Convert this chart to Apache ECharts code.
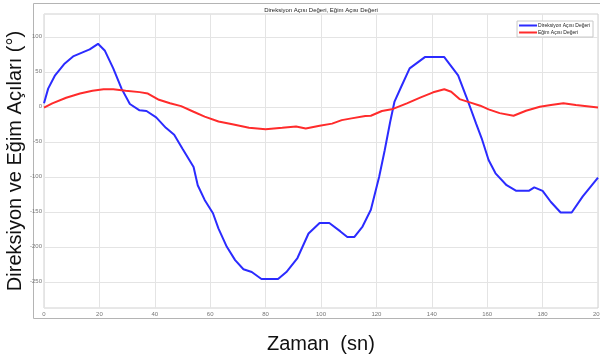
<!DOCTYPE html>
<html><head><meta charset="utf-8">
<script src="https://cdn.jsdelivr.net/npm/echarts@6/dist/echarts.min.js"></script>
<style>html,body{margin:0;padding:0;background:#fff}#c{width:600px;height:363px}</style>
</head><body><div id="c"></div>
<script>
const chartTitle = "Direksiyon Açısı Değeri, Eğim Açısı Değeri";
const xTitle = "Zaman  (sn)";
const yTitle = "Direksiyon ve Eğim Açıları (°)";
const seriesNames = ["Direksiyon Açısı Değeri", "Eğim Açısı Değeri"];
const yTicks = [-250, -200, -150, -100, -50, 0, 50, 100];
const xTicks = [0, 20, 40, 60, 80, 100, 120, 140, 160, 180, 200];

// [time (sn), angle (°)]
const steering = [[0,5],[1.5,26],[4,45],[7.5,62],[10.5,72],[13.5,77],[16.5,82],[19.5,90],[22,80],[25,55],[28,26],[31,4],[34.5,-5],[37,-6],[40.5,-15],[44,-30],[47,-40],[50,-60],[54,-86],[55.5,-112],[58,-133],[61,-152],[63,-174],[66,-200],[69,-219],[72,-232],[75,-236],[78.5,-246],[84.5,-246],[87.5,-236],[91.5,-216],[95.5,-181],[99.5,-166],[103,-166],[107,-178],[109.5,-186],[112,-186],[115,-171],[118,-147],[121,-100],[123,-62],[125,-21],[126.5,7],[129,29],[132,55],[137.5,71],[144.5,71],[149.5,45],[152.5,14],[156,-24],[158,-45],[160.5,-76],[163,-95],[167,-112],[170.5,-120],[175,-120],[177,-115],[180,-120],[183,-136],[186.5,-151],[190.5,-151],[194.5,-128],[200,-101]];
const slope = [[0,-1],[3,5],[8,13],[13,19],[17.5,23],[21.5,25],[25,25],[29.5,23],[34.5,21],[37.5,19],[41.5,10],[45.5,5],[49.5,1],[54,-7],[58,-14],[63,-21],[68,-25],[74,-30],[80,-32],[86,-30],[91,-28],[94.5,-31],[99.5,-27],[104,-24],[107.5,-19],[111,-16.5],[116,-13],[118,-12.7],[122,-6],[126,-3],[131,5],[136,13.5],[140.5,20.7],[144.5,25],[147,21.6],[150,11],[154,6],[157.5,1.6],[160.5,-3.6],[164.5,-9],[169.5,-12.7],[174,-5.6],[179,0],[183,2.6],[187.5,5],[192,2.6],[200,-1]];

const yMin = -287.4, yMax = 132.6;
const font = "Liberation Sans, Arial, sans-serif";
const chart = echarts.init(document.getElementById('c'));
chart.setOption({
  animation: false,
  backgroundColor: '#fff',
  textStyle: {fontFamily: font},
  title: {text: chartTitle, left: 321, top: 7, textAlign: 'center', padding: 0,
    textStyle: {fontSize: 6, fontWeight: 'normal', color: '#222', fontFamily: font}},
  graphic: [
    {type: 'rect', shape: {x: 33.5, y: 3.5, width: 600, height: 315}, style: {fill: 'none', stroke: '#b4b4b4', lineWidth: 1}, z: -1},
    {type: 'text', left: 267, top: 334, style: {text: xTitle, fontSize: 20, fill: '#111', font: '20px ' + font}},
    {type: 'text', x: 5, y: 161, rotation: Math.PI/2, style: {text: yTitle, fontSize: 20, fill: '#111', font: '20px ' + font, align: 'center', verticalAlign: 'top'}}
  ],
  legend: {
    right: 7, top: 21, orient: 'vertical', itemWidth: 18, itemHeight: 2, itemGap: 2,
    icon: 'rect', padding: [2, 3, 2, 2],
    backgroundColor: '#fff', borderColor: '#c8c8c8', borderWidth: 1,
    textStyle: {fontSize: 5, color: '#222', padding: [0, 0, 0, -4]},
    data: seriesNames
  },
  grid: {left: 44, right: 2, top: 14, bottom: 55, show: true, borderColor: '#d0d0d0', borderWidth: 1,
    containLabel: false, outerBoundsMode: 'none'},
  xAxis: {type: 'value', min: 0, max: 200, interval: 20,
    axisLine: {show: false}, axisTick: {show: false},
    axisLabel: {fontSize: 6, color: '#777', margin: 3, formatter: v => xTicks.includes(v) ? String(v) : ''},
    splitLine: {show: true, lineStyle: {color: '#e4e4e4', width: 1}}},
  yAxis: {type: 'value', min: yMin, max: yMax,
    axisLine: {show: false},
    axisTick: {show: false, customValues: yTicks},
    axisLabel: {fontSize: 6, color: '#777', margin: 2, customValues: yTicks},
    splitLine: {show: true, lineStyle: {color: '#e4e4e4', width: 1}}},
  series: [
    {name: seriesNames[0], type: 'line', data: steering, symbol: 'none', lineStyle: {color: '#2b2bff', width: 2}, itemStyle: {color: '#2b2bff'}},
    {name: seriesNames[1], type: 'line', data: slope, symbol: 'none', lineStyle: {color: '#ff2b2b', width: 2}, itemStyle: {color: '#ff2b2b'}}
  ]
});
</script></body></html>
